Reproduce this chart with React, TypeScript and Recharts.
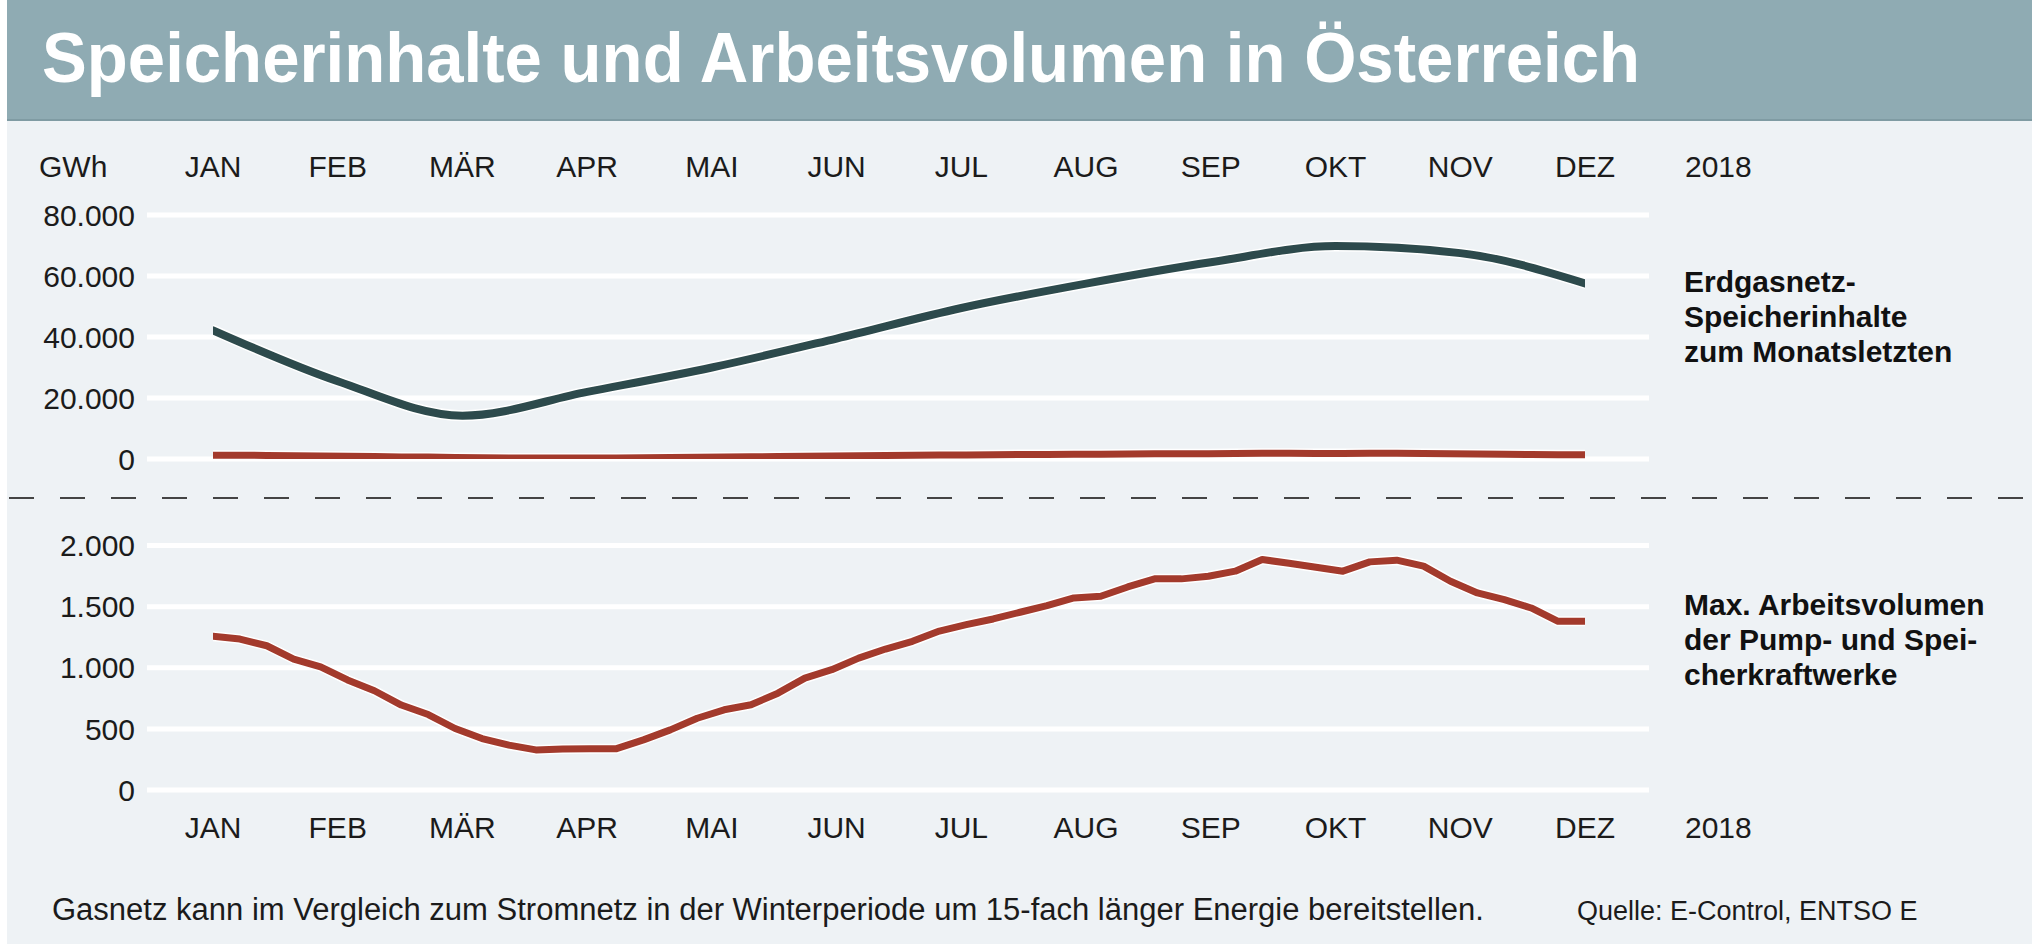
import { LineChart, Line, XAxis, YAxis, CartesianGrid } from "recharts";

// month labels (x axis)
const MONTHS = ["JAN", "FEB", "MÄR", "APR", "MAI", "JUN", "JUL", "AUG", "SEP", "OKT", "NOV", "DEZ"];

// Erdgasnetz-Speicherinhalte zum Monatsletzten, GWh
const GAS_GWH = [42200, 25500, 14200, 22000, 30000, 39500, 49500, 57500, 64500, 69800, 67500, 57600];

// Max. Arbeitsvolumen der Pump- und Speicherkraftwerke, GWh (weekly, 52 values)
const PUMP_GWH = [
  1257, 1235, 1180, 1071, 1008, 900, 812, 695, 617, 503, 421, 367, 328,
  335, 337, 338, 410, 492, 587, 656, 697, 792, 915, 984, 1079, 1153,
  1216, 1300, 1352, 1399, 1454, 1508, 1571, 1585, 1661, 1727, 1727, 1749, 1790,
  1885, 1855, 1822, 1790, 1866, 1880, 1831, 1708, 1612, 1557, 1489, 1380, 1380,
];

const GAS_TICKS = [0, 20000, 40000, 60000, 80000];
const PUMP_TICKS = [0, 500, 1000, 1500, 2000];

const gasData = GAS_GWH.map((v, i) => ({ m: i, v }));
const pumpData = PUMP_GWH.map((v, i) => ({ w: i, v }));
const monthTicks = MONTHS.map((_, i) => i);

const FONT = "'Liberation Sans', Arial, Helvetica, sans-serif";
const BG = "#eef2f5";
const DARK = "#2d4a4c";
const RED = "#a33a2c";
const PAD = { left: 66, right: 64 };

const fmt = (n: number) => String(n).replace(/\B(?=(\d{3})+(?!\d))/g, ".");
const tickStyle = { fill: "#1b1b1b", fontSize: 30, fontFamily: FONT };

export default function App() {
  return (
    <div style={{ position: "absolute", left: 0, top: 0, width: 2039, height: 944, background: "#fff", overflow: "hidden" }}>
      <svg width={2039} height={944} style={{ position: "absolute", left: 0, top: 0 }} fontFamily={FONT}>
        <rect x={7} y={0} width={2025} height={944} fill={BG} />
        <rect x={7} y={0} width={2025} height={121} fill="#8fabb3" />
        <rect x={7} y={119} width={2025} height={2} fill="#7f9ba3" />
        <text x={42} y={82} fontSize={71} fontWeight="bold" fill="#fff" textLength={1598} lengthAdjust="spacingAndGlyphs">
          Speicherinhalte und Arbeitsvolumen in Österreich
        </text>

        <text x={39} y={177} fontSize={30} fill="#1b1b1b">GWh</text>
        <text x={1685} y={177} fontSize={30} fill="#1b1b1b">2018</text>
        <text x={1685} y={838} fontSize={30} fill="#1b1b1b">2018</text>

        <g fontSize={30} fontWeight="bold" fill="#111">
          <text x={1684} y={292}>Erdgasnetz-</text>
          <text x={1684} y={327}>Speicherinhalte</text>
          <text x={1684} y={362}>zum Monatsletzten</text>
          <text x={1684} y={615}>Max. Arbeitsvolumen</text>
          <text x={1684} y={650}>der Pump- und Spei-</text>
          <text x={1684} y={685}>cherkraftwerke</text>
        </g>

        <line x1={9} y1={498} x2={2032} y2={498} stroke="#444" strokeWidth={2} strokeDasharray="25 26" />

        <text x={52} y={920} fontSize={31} fill="#1b1b1b">
          Gasnetz kann im Vergleich zum Stromnetz in der Winterperiode um 15-fach länger Energie bereitstellen.
        </text>
        <text x={1577} y={920} fontSize={27} fill="#1b1b1b">Quelle: E-Control, ENTSO E</text>
      </svg>

      <div style={{ position: "absolute", left: 0, top: 0 }}>
        <LineChart width={2039} height={480} margin={{ top: 155, right: 390, bottom: 21, left: 0 }}>
          <CartesianGrid xAxisId="m" vertical={false} stroke="#fff" strokeWidth={5} />
          <XAxis
            xAxisId="m"
            type="number"
            dataKey="m"
            domain={[0, 11]}
            ticks={monthTicks}
            interval={0}
            orientation="top"
            height={60}
            padding={PAD}
            tickFormatter={(i: number) => MONTHS[i]}
            axisLine={false}
            tickLine={false}
            tickSize={0}
            tickMargin={38}
            tick={tickStyle}
            allowDataOverflow
          />
          <XAxis xAxisId="w" type="number" dataKey="w" domain={[0, 51]} padding={PAD} hide allowDataOverflow />
          <YAxis
            domain={[0, 80000]}
            ticks={GAS_TICKS}
            interval={0}
            width={147}
            tickFormatter={fmt}
            axisLine={false}
            tickLine={false}
            tickSize={0}
            tickMargin={12}
            tick={tickStyle}
            allowDataOverflow
          />
          <Line xAxisId="w" data={pumpData} dataKey="v" type="linear" stroke="#fff" strokeWidth={10} dot={false} strokeLinecap="round" isAnimationActive={false} />
          <Line xAxisId="w" data={pumpData} dataKey="v" type="linear" stroke={RED} strokeWidth={7} dot={false} strokeLinecap="round" isAnimationActive={false} />
          <Line xAxisId="m" data={gasData} dataKey="v" type="monotone" stroke="#fff" strokeWidth={11} dot={false} strokeLinecap="round" isAnimationActive={false} />
          <Line xAxisId="m" data={gasData} dataKey="v" type="monotone" stroke={DARK} strokeWidth={8} dot={false} strokeLinecap="round" isAnimationActive={false} />
        </LineChart>
      </div>

      <div style={{ position: "absolute", left: 0, top: 480 }}>
        <LineChart width={2039} height={464} margin={{ top: 65.5, right: 390, bottom: 94, left: 0 }}>
          <CartesianGrid xAxisId="m" vertical={false} stroke="#fff" strokeWidth={5} />
          <XAxis
            xAxisId="m"
            type="number"
            dataKey="m"
            domain={[0, 11]}
            ticks={monthTicks}
            interval={0}
            orientation="bottom"
            height={60}
            padding={PAD}
            tickFormatter={(i: number) => MONTHS[i]}
            axisLine={false}
            tickLine={false}
            tickSize={0}
            tickMargin={27}
            tick={tickStyle}
            allowDataOverflow
          />
          <XAxis xAxisId="w" type="number" dataKey="w" domain={[0, 51]} padding={PAD} hide allowDataOverflow />
          <YAxis
            domain={[0, 2000]}
            ticks={PUMP_TICKS}
            interval={0}
            width={147}
            tickFormatter={fmt}
            axisLine={false}
            tickLine={false}
            tickSize={0}
            tickMargin={12}
            tick={tickStyle}
            allowDataOverflow
          />
          <Line xAxisId="w" data={pumpData} dataKey="v" type="linear" stroke="#fff" strokeWidth={10} dot={false} strokeLinecap="round" strokeLinejoin="round" isAnimationActive={false} />
          <Line xAxisId="w" data={pumpData} dataKey="v" type="linear" stroke={RED} strokeWidth={7} dot={false} strokeLinecap="round" strokeLinejoin="round" isAnimationActive={false} />
        </LineChart>
      </div>
    </div>
  );
}
